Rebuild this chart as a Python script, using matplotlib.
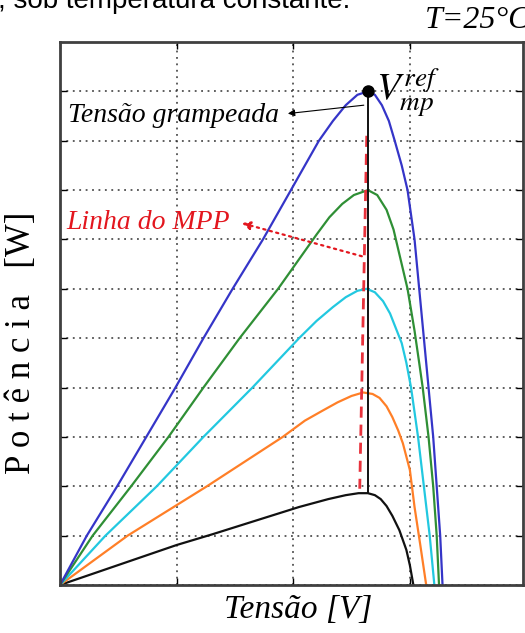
import matplotlib
matplotlib.use("Agg")
import matplotlib.pyplot as plt

plt.rcParams["font.family"] = ["Liberation Serif", "DejaVu Serif"]
plt.rcParams["mathtext.fontset"] = "stix"

# curvas P-V (tensao, potencia) em unidades de grade
v_azul = [0, 0.23, 0.49, 0.74, 0.99, 1.23, 1.48, 1.74, 1.98, 2.10, 2.22, 2.34, 2.45, 2.55, 2.64,
          2.70, 2.76, 2.82, 2.87, 2.93, 2.98, 3.04, 3.08, 3.12, 3.16, 3.20, 3.23, 3.26, 3.28]
p_azul = [0, 1, 2, 3, 4, 5, 6, 7, 8, 8.5, 9.0, 9.4, 9.72, 9.93, 10,
          9.93, 9.72, 9.4, 9.0, 8.5, 8.0, 7.0, 6.0, 5.0, 4.0, 3.0, 2.0, 1.0, 0]

v_verde = [0, 0.28, 0.61, 0.93, 1.23, 1.54, 1.87, 2.05, 2.20, 2.31, 2.42, 2.52, 2.64,
           2.72, 2.80, 2.86, 2.91, 2.95, 2.98, 3.04, 3.08, 3.11, 3.16, 3.20, 3.23, 3.25]
p_verde = [0, 1, 2, 3, 4, 5, 6, 6.6, 7.1, 7.45, 7.72, 7.9, 8.0,
           7.9, 7.6, 7.2, 6.7, 6.3, 6.0, 5.15, 4.5, 4.0, 3.0, 2.0, 1.0, 0]

v_ciano = [0, 0.39, 0.83, 1.23, 1.65, 2.05, 2.20, 2.34, 2.45, 2.55, 2.63,
           2.70, 2.77, 2.83, 2.88, 2.93, 2.97, 3.01, 3.04, 3.07, 3.12, 3.17, 3.21]
p_ciano = [0, 1, 2, 3, 4, 5, 5.35, 5.63, 5.83, 5.96, 6.0,
           5.93, 5.75, 5.5, 5.2, 4.9, 4.5, 4.0, 3.5, 3.0, 2.0, 1.0, 0]

v_laranja = [0, 0.58, 1.26, 1.91, 2.10, 2.25, 2.38, 2.50, 2.60,
             2.68, 2.74, 2.80, 2.85, 2.90, 2.94, 2.97, 3.00, 3.04, 3.09, 3.14]
p_laranja = [0, 1, 2, 3, 3.33, 3.53, 3.70, 3.83, 3.9,
             3.87, 3.79, 3.62, 3.40, 3.13, 2.87, 2.6, 2.33, 1.58, 0.8, 0]

v_preto = [0, 1.0, 1.31, 1.70, 2.05, 2.30, 2.45, 2.56, 2.64,
           2.70, 2.75, 2.80, 2.85, 2.91, 2.97, 3.00, 3.03]
p_preto = [0, 0.81, 1.03, 1.32, 1.58, 1.74, 1.82, 1.86, 1.86,
           1.82, 1.74, 1.6, 1.4, 1.11, 0.71, 0.4, 0]

v_ref = 2.64
p_ref = 10
p_ref_base = 1.86
linha_mpp_v = [2.63, 2.57]
linha_mpp_p = [9.1, 1.95]

fig = plt.figure(figsize=(5.25, 6.33), dpi=100)
ax = fig.add_axes([60 / 525, 48 / 633, 463 / 525, 543 / 633])

ax.plot(v_preto, p_preto, color="#111111", lw=1.6)
ax.plot(v_laranja, p_laranja, color="#ff7f27", lw=1.6)
ax.plot(v_ciano, p_ciano, color="#22c8e0", lw=1.6)
ax.plot(v_verde, p_verde, color="#2f8f35", lw=1.6)
ax.plot(v_azul, p_azul, color="#3535c8", lw=1.6)

ax.plot(linha_mpp_v, linha_mpp_p, color="#e8323c", lw=2, ls=(0, (4, 2.5)))
ax.plot([v_ref, v_ref], [p_ref, p_ref_base], color="#111111", lw=1.4)
ax.plot([v_ref], [p_ref], "o", color="black", ms=8)

ax.set_xlim(0, 3.97)
ax.set_ylim(0, 11)
ax.set_xticks([0, 1, 2, 3])
ax.set_yticks(range(11))
ax.grid(True, color="#333333", ls=(0, (1.2, 3)), lw=1.1)
ax.tick_params(direction="in", top=True, right=True, length=5, width=1,
               labelleft=False, labelbottom=False)
for s in ax.spines.values():
    s.set_color("#404040")
    s.set_linewidth(2)

ax.text(0.07, 9.51, "Tensão grampeada", style="italic", fontsize=20,
        ha="left", va="center")
ax.annotate("", xy=(1.954, 9.55), xytext=(2.605, 9.72),
            arrowprops=dict(arrowstyle="-|>", color="black", lw=0.8,
                            mutation_scale=10, shrinkA=0, shrinkB=0))

ax.text(0.05, 7.35, "Linha do MPP", style="italic", fontsize=20, color="#e3161e",
        ha="left", va="center")
ax.annotate("", xy=(1.56, 7.33), xytext=(2.588, 6.66),
            arrowprops=dict(arrowstyle="-|>", color="#e3161e", lw=1.6,
                            ls=(0, (1, 2)), mutation_scale=12, shrinkA=0, shrinkB=0))

ax.text(2.71, 9.80, r"$V_{mp}^{ref}$", fontsize=28, ha="left", va="baseline")

fig.text(425 / 525, 1 - 28 / 633, "T=25°C", style="italic", fontsize=23,
         ha="left", va="baseline")
fig.text(-2 / 525, 1 - 8 / 633, ", sob temperatura constante.", fontsize=20,
         family="Liberation Sans", ha="left", va="baseline")

fig.text(298 / 525, 1 - 610 / 633, "Tensão [V]", style="italic", fontsize=24,
         ha="center", va="center")
fig.text(22 / 525, 1 - 343 / 633, "P o t ê n c i a   [W]", fontsize=25, rotation=90,
         ha="center", va="center")

fig.savefig("out.png", dpi=100)
